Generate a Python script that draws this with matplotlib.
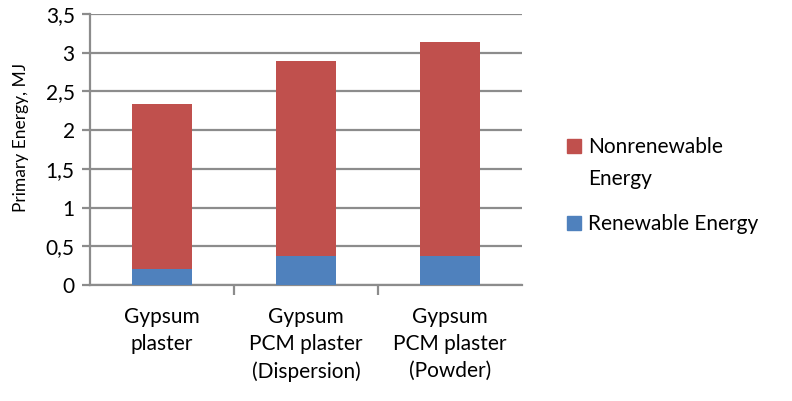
import matplotlib.pyplot as plt
import matplotlib.patches as mpatches
import numpy as np

categories = ["Gypsum\nplaster", "Gypsum\nPCM plaster\n(Dispersion)", "Gypsum\nPCM plaster\n(Powder)"]
series_names = ["Nonrenewable\nEnergy", "Renewable Energy"]
renewable = [0.21, 0.38, 0.38]
nonrenewable = [2.13, 2.51, 2.76]
yticks = [0, 0.5, 1, 1.5, 2, 2.5, 3, 3.5]
ytick_labels = ["0", "0,5", "1", "1,5", "2", "2,5", "3", "3,5"]

RED = "#C0504D"
BLUE = "#4F81BD"
GRID = "#8C8C8C"
W, H = 792, 401

plt.rcParams["font.family"] = ["Lato", "DejaVu Sans"]

fig = plt.figure(figsize=(W / 100, H / 100), dpi=100)
ax = fig.add_axes([90 / W, 1 - 285 / H, 432 / W, 271 / H])

x = np.arange(len(categories))
ax.bar(x, renewable, width=0.41, color=BLUE, zorder=3)
ax.bar(x, nonrenewable, width=0.41, bottom=renewable, color=RED, zorder=3)

ax.set_xlim(-0.5, len(categories) - 0.5)
ax.set_ylim(0, 3.5)
ax.set_yticks(yticks)
ax.set_yticklabels(ytick_labels, fontsize=15)
ax.yaxis.grid(True, color=GRID, linewidth=1.6, zorder=0)
ax.tick_params(axis="y", length=6, width=1.6, color=GRID, pad=5)

# category labels, ticks at the boundaries
ax.set_xticks(x)
ax.set_xticklabels(categories, fontsize=15, linespacing=1.42, va="top")
ax.tick_params(axis="x", length=0, pad=16)
ax.set_xticks(np.arange(len(categories) - 1) + 0.5, minor=True)
ax.tick_params(axis="x", which="minor", length=7, width=1.6, color=GRID)

for s in ["top", "right"]:
    ax.spines[s].set_visible(False)
for s in ["left", "bottom"]:
    ax.spines[s].set_color(GRID)
    ax.spines[s].set_linewidth(1.6)

ax.set_ylabel("Primary Energy, MJ", fontsize=12.5, va="center")
ax.yaxis.set_label_coords(-0.16, 0.545)

# legend, laid out by hand like the original (handle beside first line)
for color, name, sq_top, baselines in [(RED, series_names[0], 139, [153, 185]),
                                        (BLUE, series_names[1], 216, [230])]:
    fig.patches.append(mpatches.Rectangle((567 / W, 1 - (sq_top + 14) / H), 14 / W, 14 / H,
                                          transform=fig.transFigure, color=color))
    for line, b in zip(name.split("\n"), baselines):
        fig.text(588 / W, 1 - b / H, line, fontsize=15, va="baseline", ha="left")

fig.savefig("out.png", dpi=100, facecolor="white")
